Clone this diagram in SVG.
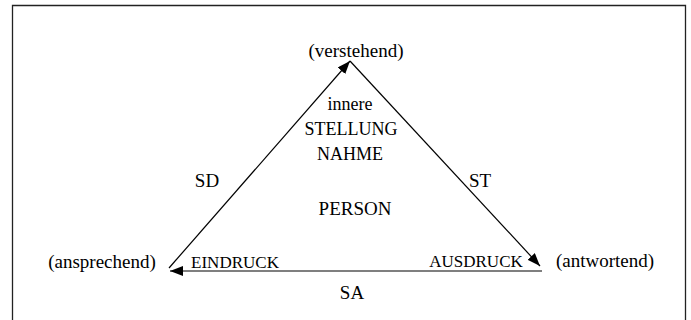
<svg xmlns="http://www.w3.org/2000/svg" width="691" height="320" viewBox="0 0 691 320">
<style>
text{font-family:"Liberation Serif","Times New Roman",serif;fill:#000;}
.lbl{font-size:19px;}
.sm{font-size:17px;}
.in{font-size:18px;}
.c{text-anchor:middle;}
.ln{stroke:#000;stroke-width:1.2;fill:none;}
</style>
<defs>
<marker id="ah" markerUnits="userSpaceOnUse" markerWidth="14" markerHeight="10" refX="13" refY="5" orient="auto">
<path d="M0,0 L13,5 L0,10 z" fill="#000"/>
</marker>
</defs>
<rect width="691" height="320" fill="#fff"/>
<path d="M12.5,330 V5.5 H685.5 V330" fill="none" stroke="#222" stroke-width="1.3"/>
<g id="connectors">
<line class="ln" x1="169" y1="268" x2="350" y2="61" marker-end="url(#ah)"/>
<line class="ln" x1="350" y1="61" x2="540" y2="266" marker-end="url(#ah)"/>
<line class="ln" x1="542" y1="271" x2="170" y2="271" marker-end="url(#ah)"/>
</g>
<g id="verstehend"><text class="lbl c" x="356" y="57">(verstehend)</text></g>
<g id="ansprechend"><text class="lbl c" x="102" y="268">(ansprechend)</text></g>
<g id="antwortend"><text class="lbl c" x="605" y="267">(antwortend)</text></g>
<g id="center">
<text class="in c" x="350" y="110">innere</text>
<text class="in c" x="351" y="135">STELLUNG</text>
<text class="in c" x="350" y="160">NAHME</text>
<text class="lbl c" x="355" y="215">PERSON</text>
</g>
<g id="edge-labels">
<text class="lbl c" x="207" y="187">SD</text>
<text class="lbl c" x="480" y="187">ST</text>
<text class="lbl c" x="352" y="299">SA</text>
<text class="sm c" x="235" y="268">EINDRUCK</text>
<text class="sm c" x="476" y="267">AUSDRUCK</text>
</g>
</svg>
